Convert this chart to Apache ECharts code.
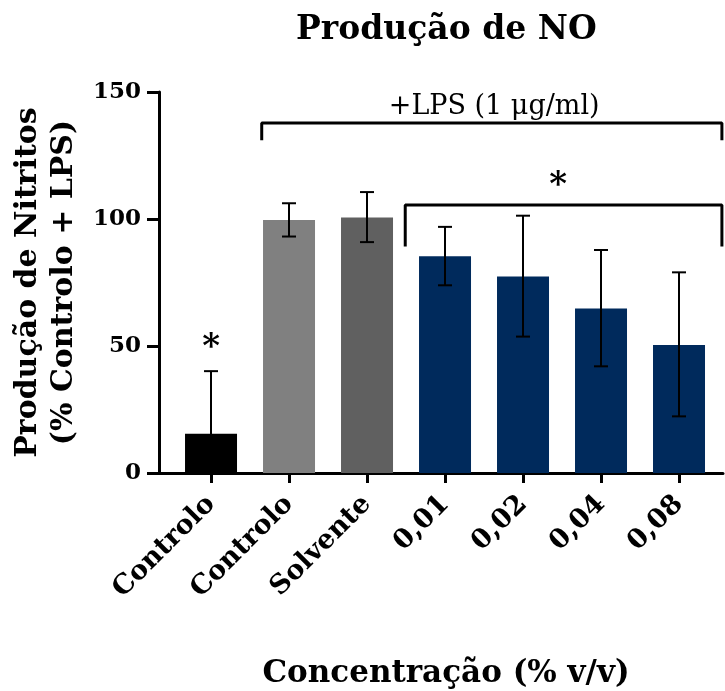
<!DOCTYPE html>
<html>
<head>
<meta charset="utf-8">
<script src="https://cdn.jsdelivr.net/npm/echarts@6/dist/echarts.min.js"></script>
<style>html,body{margin:0;padding:0;background:#fff}#c{width:725px;height:691px}</style>
</head>
<body>
<div id="c"></div>
<script>
// ---- data ----
var categories = ['Controlo', 'Controlo', 'Solvente', '0,01', '0,02', '0,04', '0,08'];
var means      = [15.5, 99.6, 100.6, 85.3, 77.4, 64.8, 50.4];
var errLow     = [0, 93.1, 90.9, 73.9, 53.7, 42.0, 22.3];
var errHigh    = [40.1, 106.2, 110.6, 96.9, 101.3, 87.8, 79.0];
var barColors  = ['#000000', '#808080', '#606060', '#002A5C', '#002A5C', '#002A5C', '#002A5C'];
var yTicks     = [0, 50, 100, 150];
// bracket annotations: [xStart, xEnd, yTop, yFoot] in data units
var lpsBracket = [0.65, 6.55, 137.8, 131];
var sigBracket = [2.49, 6.55, 105.5, 89.2];
// text annotations: [x, y, text]
var annotations = [
  [0, 49, '*'],
  [4.45, 113, '*']
];
var lpsLabel = [3.63, 144, '+LPS (1 μg/ml)'];

var SERIF = '"DejaVu Serif", "Liberation Serif", serif';
var idx = categories.map(function (_, i) { return i; });

function bracketPts(b) {
  return [[b[0], b[3]], [b[0], b[2]], [b[1], b[2]], [b[1], b[3]]];
}

var chart = echarts.init(document.getElementById('c'), null, {renderer: 'canvas'});
chart.setOption({
  backgroundColor: '#fff',
  animation: false,
  title: {
    text: 'Produção de NO',
    left: 291, top: 9,
    textStyle: {fontFamily: SERIF, fontWeight: 'bold', fontSize: 33, color: '#000'}
  },
  grid: {left: 159, right: 2, top: 92, bottom: 218, containLabel: false, outerBoundsMode: 'none'},
  xAxis: {
    type: 'value',
    min: -0.667, max: 6.564,
    splitLine: {show: false},
    axisLine: {show: true, onZero: false, lineStyle: {color: '#000', width: 3}},
    axisTick: {show: true, customValues: idx, length: 10, lineStyle: {color: '#000', width: 3}},
    axisLabel: {
      customValues: idx,
      rotate: 45,
      margin: 27,
      formatter: function (v) { return categories[Math.round(v)]; },
      fontFamily: SERIF, fontWeight: 'bold', fontSize: 27, color: '#000'
    },
    name: 'Concentração (% v/v)',
    nameLocation: 'middle',
    nameGap: 185,
    nameTextStyle: {fontFamily: SERIF, fontWeight: 'bold', fontSize: 31, color: '#000', padding: [0, 0, 0, 10]}
  },
  yAxis: {
    type: 'value',
    min: 0, max: 150, interval: 50,
    splitLine: {show: false},
    axisLine: {show: true, onZero: false, lineStyle: {color: '#000', width: 3}},
    axisTick: {show: true, length: 12, lineStyle: {color: '#000', width: 3}},
    axisLabel: {
      margin: 18,
      formatter: function (v) { return yTicks.indexOf(v) >= 0 ? String(v) : ''; },
      fontFamily: SERIF, fontWeight: 'bold', fontSize: 23, color: '#000'
    },
    name: 'Produção de Nitritos\n(% Controlo + LPS)',
    nameLocation: 'middle',
    nameRotate: 90,
    nameGap: 75,
    nameTextStyle: {fontFamily: SERIF, fontWeight: 'bold', fontSize: 30, lineHeight: 36, color: '#000'}
  },
  series: [
    {
      type: 'custom',
      clip: true,
      data: means.map(function (m, i) { return [i, m]; }),
      renderItem: function (params, api) {
        var top = api.coord([api.value(0), api.value(1)]);
        var base = api.coord([api.value(0), 0]);
        var w = 52;
        return {
          type: 'rect',
          shape: {x: top[0] - w / 2, y: top[1], width: w, height: base[1] - top[1]},
          style: {fill: barColors[params.dataIndex]}
        };
      },
      z: 2
    },
    {
      type: 'custom',
      clip: true,
      data: means.map(function (m, i) { return [i, errLow[i], errHigh[i]]; }),
      renderItem: function (params, api) {
        var x = api.value(0);
        var lo = api.coord([x, api.value(1)]);
        var hi = api.coord([x, api.value(2)]);
        var half = 7;
        var st = {stroke: '#000', lineWidth: 2};
        return {
          type: 'group',
          children: [
            {type: 'line', shape: {x1: lo[0], y1: lo[1], x2: hi[0], y2: hi[1]}, style: st},
            {type: 'line', shape: {x1: hi[0] - half, y1: hi[1], x2: hi[0] + half, y2: hi[1]}, style: st},
            {type: 'line', shape: {x1: lo[0] - half, y1: lo[1], x2: lo[0] + half, y2: lo[1]}, style: st}
          ]
        };
      },
      z: 5
    },
    {
      type: 'line', data: bracketPts(lpsBracket), symbol: 'none',
      lineStyle: {color: '#000', width: 3}, z: 6
    },
    {
      type: 'line', data: bracketPts(sigBracket), symbol: 'none',
      lineStyle: {color: '#000', width: 3}, z: 6
    },
    {
      type: 'custom',
      clip: false,
      data: annotations.map(function (a) { return [a[0], a[1]]; }),
      renderItem: function (params, api) {
        var p = api.coord([api.value(0), api.value(1)]);
        return {
          type: 'text',
          x: p[0], y: p[1],
          style: {
            text: annotations[params.dataIndex][2],
            fontFamily: SERIF, fontWeight: 'bold', fontSize: 34,
            fill: '#000', textAlign: 'center', textVerticalAlign: 'middle'
          }
        };
      },
      z: 7
    },
    {
      type: 'custom',
      clip: false,
      data: [[lpsLabel[0], lpsLabel[1]]],
      renderItem: function (params, api) {
        var p = api.coord([api.value(0), api.value(1)]);
        return {
          type: 'text',
          x: p[0], y: p[1],
          style: {
            text: lpsLabel[2],
            fontFamily: SERIF, fontSize: 27,
            fill: '#000', textAlign: 'center', textVerticalAlign: 'middle'
          }
        };
      },
      z: 7
    }
  ]
});
</script>
</body>
</html>
